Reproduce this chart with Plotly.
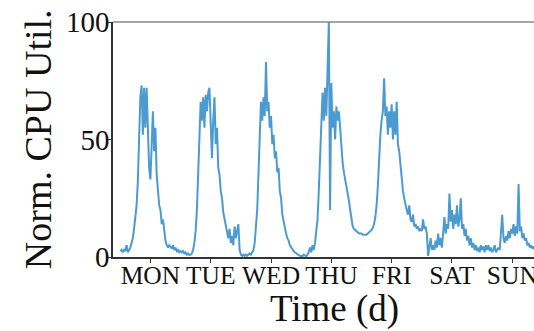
import plotly.graph_objects as go

# ---- data (normalised CPU utilisation, one sample every 30 min) ----
day_labels = ["MON", "TUE", "WED", "THU", "FRI", "SAT", "SUN"]
day_tick_pos = [0.5, 1.5, 2.5, 3.5, 4.5, 5.5, 6.5]
y_tick_vals = [0, 50, 100]
samples_per_day = 48

util_mon = [2.5, 3, 2, 3, 2.5, 5, 2, 3, 4, 6, 8, 12, 16, 22, 32, 50,
            68, 73, 52, 72, 55, 72, 52, 38, 33, 48, 62, 45, 55, 35, 28, 22,
            20, 14, 16, 10, 7, 5, 4, 5, 4, 3.5, 5, 3, 4, 2.5, 3, 2]
util_tue = [2.5, 2, 2.5, 1.5, 2, 1, 1.5, 0.8, 1, 1.5, 3, 6, 11, 20, 35, 55,
            66, 58, 68, 55, 69, 62, 70, 72, 52, 42, 58, 68, 48, 55, 38, 35,
            28, 25, 19, 16, 13, 10, 8, 12, 6, 9, 5, 13, 8, 11, 14, 3]
util_wed = [1, 0.5, 1, 0.5, 1, 0.5, 1, 1.5, 1, 2, 3, 6, 12, 20, 35, 55,
            66, 58, 68, 60, 83, 62, 66, 55, 60, 48, 52, 42, 45, 36, 38, 28,
            25, 18, 15, 12, 10, 8, 7, 5, 4, 3, 2.5, 2, 1.5, 1, 0.8, 0.5]
util_thu = [0.5, 0.3, 1, 0.5, 0.3, 1, 2, 4, 2, 5, 3, 6, 10, 16, 28, 45,
            62, 70, 58, 72, 60, 80, 100, 20, 74, 55, 62, 50, 64, 58, 62, 55,
            45, 40, 36, 33, 30, 28, 24, 20, 15, 13, 12, 11.5, 11, 10.5, 10, 10]
util_fri = [10, 9.5, 9.5, 9.8, 9.5, 10, 10.5, 11, 11.5, 12.5, 14, 17, 22, 30, 42, 52,
            58, 62, 76, 60, 64, 52, 62, 55, 65, 50, 62, 52, 66, 48, 45, 38,
            35, 28, 25, 22, 20, 18, 22, 16, 15, 18, 13, 14, 12, 13, 11, 12]
util_sat = [11, 16, 12, 13, 10, 0.5, 4, 8, 3, 5, 3, 7, 4, 10, 5, 8,
            4, 11, 17, 10, 14, 12, 27, 15, 20, 12, 18, 14, 22, 13, 16, 25,
            12, 14, 9, 12, 7, 9, 5, 8, 4, 6, 3, 5, 2.5, 4, 2, 5]
util_sun = [3, 4.5, 2, 5, 3, 5, 2.5, 4, 2, 3, 5, 2, 3, 4, 3, 10,
            18, 8, 6, 9, 7, 11, 8, 12, 10, 14, 9, 13, 10, 31, 11, 13,
            8, 10, 7, 8, 5, 6, 4, 5, 3.5, 4.5, 3, 4, 3, 3.5, 3, 2.5]

cpu_util = util_mon + util_tue + util_wed + util_thu + util_fri + util_sat + util_sun
time_days = [i / samples_per_day for i in range(len(cpu_util))]

serif = "Liberation Serif"

fig = go.Figure()
fig.add_trace(go.Scatter(
    x=time_days, y=cpu_util, mode="lines",
    line=dict(color="#4b9bd1", width=2),
    showlegend=False, hoverinfo="skip",
))

fig.update_layout(
    width=534, height=331,
    margin=dict(l=113, r=0, t=22, b=74),
    paper_bgcolor="white", plot_bgcolor="white",
    xaxis=dict(
        range=[-0.12, 6.86], showgrid=False, zeroline=False,
        showline=True, linecolor="#333333", linewidth=1.5,
        ticks="outside", ticklen=4, tickwidth=1.2, tickcolor="#333333",
        tickvals=day_tick_pos, ticktext=day_labels,
        tickfont=dict(family=serif, size=25.5, color="#111111"),
        ticklabelstandoff=-9, ticklabeloverflow="allow",
        automargin=False,
    ),
    yaxis=dict(
        range=[0, 100], showgrid=False, zeroline=False,
        showline=True, linecolor="#333333", linewidth=1.5,
        ticks="outside", ticklen=4, tickwidth=1.2, tickcolor="#333333",
        tickvals=y_tick_vals,
        tickfont=dict(family=serif, size=29, color="#111111"),
        ticklabelstandoff=-8, ticklabeloverflow="allow",
        automargin=False,
    ),
    shapes=[dict(type="line", xref="paper", yref="paper", x0=0, x1=1, y0=1, y1=1,
                 line=dict(color="#888888", width=1.5))],
    annotations=[
        dict(text="Time (d)", xref="paper", yref="paper", x=0.527, y=-0.222,
             xanchor="center", yanchor="middle", showarrow=False,
             font=dict(family=serif, size=37, color="#111111")),
        dict(text="Norm. CPU Util.", xref="paper", yref="paper", x=-0.179, y=0.5,
             xanchor="center", yanchor="middle", showarrow=False, textangle=-90,
             font=dict(family=serif, size=38, color="#111111")),
    ],
)

fig.write_html("out.html", config={"displayModeBar": False},
               post_script="document.body.style.margin='0';")
